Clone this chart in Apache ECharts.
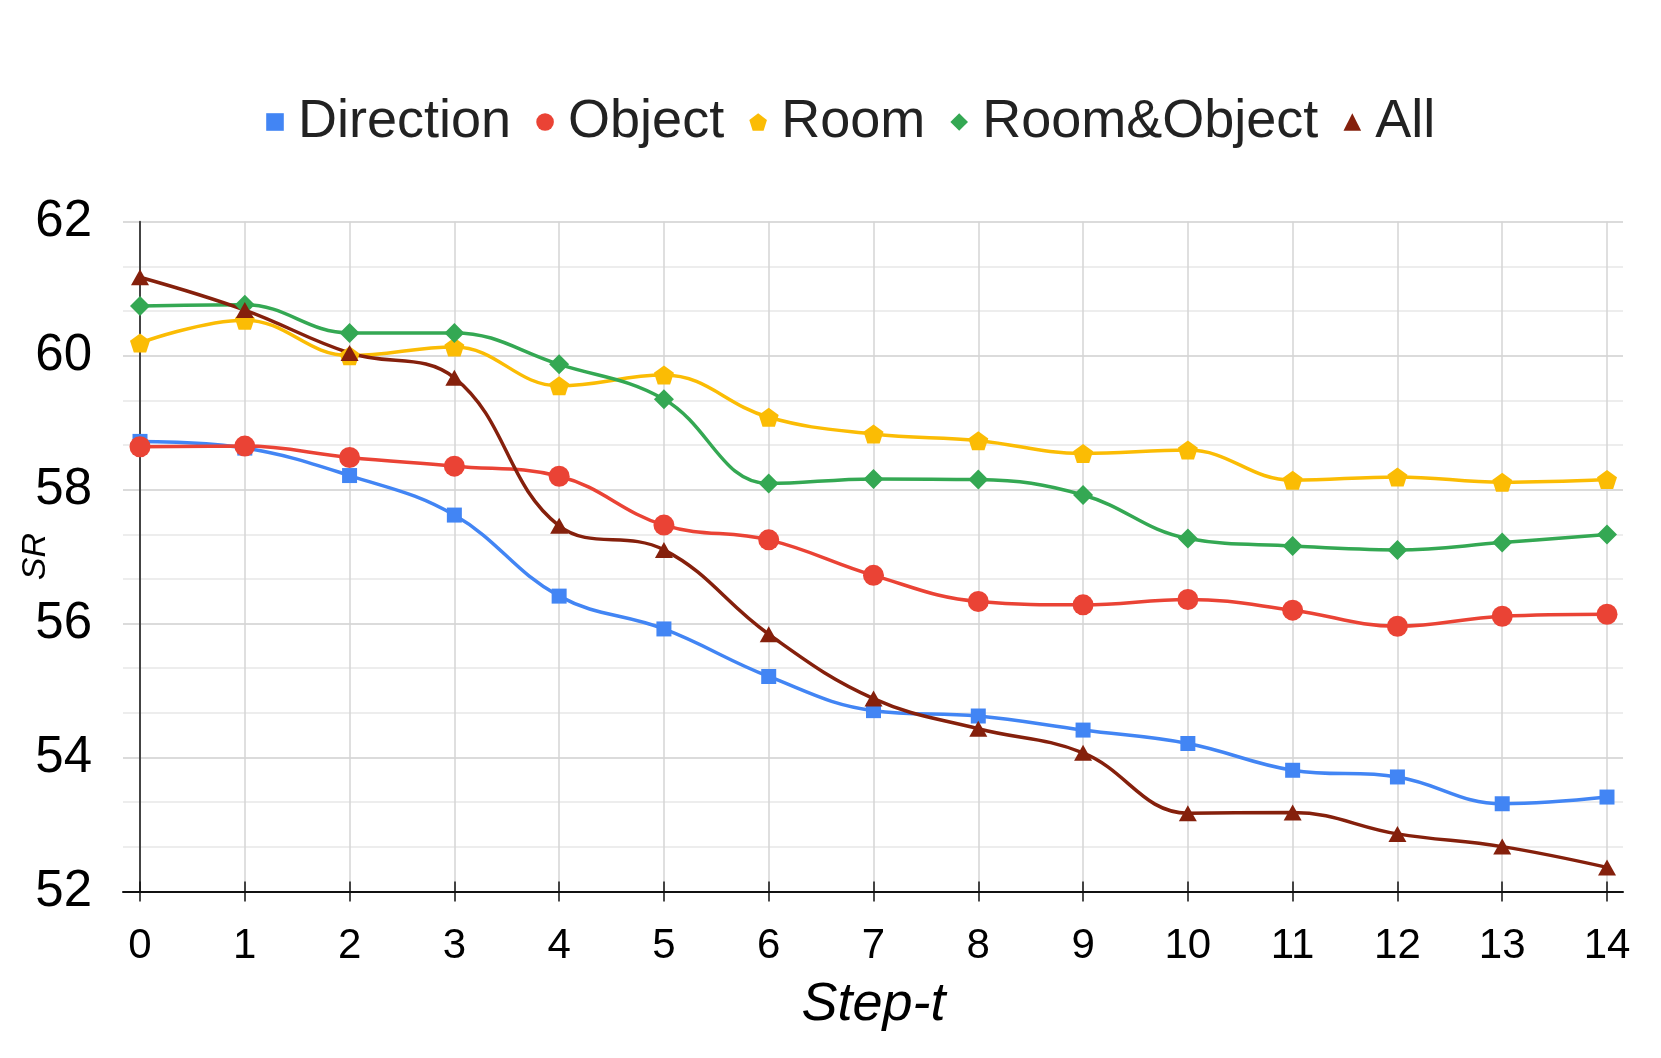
<!DOCTYPE html>
<html><head><meta charset="utf-8">
<script src="https://cdn.jsdelivr.net/npm/echarts@6/dist/echarts.min.js"></script>
<style>html,body{margin:0;padding:0;background:#fff}#c{width:1661px;height:1058px}</style>
</head><body><div id="c"></div>
<script>
const steps = ['0','1','2','3','4','5','6','7','8','9','10','11','12','13','14'];
const seriesNames = ['Direction','Object','Room','Room&Object','All'];
const direction   = [58.72, 58.62, 58.21, 57.62, 56.41, 55.92, 55.21, 54.70, 54.62, 54.41, 54.21, 53.81, 53.71, 53.31, 53.41];
const object      = [58.64, 58.65, 58.48, 58.35, 58.20, 57.47, 57.25, 56.72, 56.33, 56.28, 56.36, 56.20, 55.96, 56.11, 56.14];
const room        = [60.19, 60.53, 60.00, 60.13, 59.55, 59.71, 59.08, 58.83, 58.73, 58.54, 58.59, 58.14, 58.19, 58.11, 58.15];
const roomObject  = [60.74, 60.76, 60.34, 60.34, 59.87, 59.35, 58.09, 58.16, 58.15, 57.92, 57.27, 57.16, 57.10, 57.21, 57.33];
const all         = [61.17, 60.68, 60.04, 59.67, 57.46, 57.10, 55.84, 54.88, 54.43, 54.07, 53.17, 53.18, 52.86, 52.67, 52.36];
const yMin = 52, yMax = 62, yStep = 2;

const values = [direction, object, room, roomObject, all];
const colors = ['#4285F4', '#EA4335', '#FBBC04', '#34A853', '#85200C'];
const pentagon = 'path://M50,0 L97.55,34.55 L79.39,90.45 L20.61,90.45 L2.45,34.55 Z';
const symbols = ['rect', 'circle', pentagon, 'diamond', 'triangle'];
const sizes = [15, 21, 20, 20, [18, 16]];
const FONT = '"Liberation Sans", Arial, Helvetica, sans-serif';

const chart = echarts.init(document.getElementById('c'), null, {renderer: 'canvas'});
const option = {
  animation: false,
  backgroundColor: '#fff',
  textStyle: {fontFamily: FONT},
  legend: {
    left: 257, top: 95, padding: 0,
    itemWidth: 36, itemHeight: 22, itemGap: 16,
    textStyle: {fontSize: 54, color: '#222', fontFamily: FONT},
    lineStyle: {opacity: 0, width: 0},
    data: seriesNames
  },
  grid: [
    {left: 140, right: 54, top: 221.7, bottom: 166.5},
    {left: 123, right: 38, top: 221.7, bottom: 166.5}
  ],
  xAxis: [
    {gridIndex: 1, type: 'value', min: 0, max: 1,
     axisLine: {show: true, lineStyle: {color: '#111', width: 2}},
     axisTick: {show: false}, axisLabel: {show: false}, splitLine: {show: false}},
    {gridIndex: 0, type: 'category', data: steps, boundaryGap: false,
     axisLine: {show: false},
     axisTick: {show: true, length: 10, lineStyle: {color: '#111', width: 1.5}},
     axisLabel: {fontSize: 42, color: '#000', margin: 34, fontFamily: FONT},
     splitLine: {show: true, lineStyle: {color: '#d4d4d4', width: 1.5}},
     name: 'Step-t', nameLocation: 'middle', nameGap: 86,
     nameTextStyle: {fontSize: 54, fontStyle: 'italic', color: '#000', fontFamily: FONT}},
    {gridIndex: 0, type: 'category', data: steps, boundaryGap: false, position: 'bottom',
     axisLine: {show: false},
     axisTick: {show: true, inside: true, length: 10, lineStyle: {color: '#111', width: 1.5}},
     axisLabel: {show: false}, splitLine: {show: false}}
  ],
  yAxis: [
    {gridIndex: 1, type: 'value', min: yMin, max: yMax, interval: yStep,
     axisLine: {show: false}, axisTick: {show: false},
     axisLabel: {fontSize: 51, color: '#000', margin: 31, fontFamily: FONT},
     splitLine: {show: true, lineStyle: {color: '#cfcfcf', width: 1.5}},
     minorTick: {show: false, splitNumber: 3},
     minorSplitLine: {show: true, lineStyle: {color: '#e8e8e8', width: 1.5}},
     name: 'SR', nameLocation: 'middle', nameGap: 70, nameRotate: 90, nameMoveOverlap: false,
     nameTextStyle: {fontSize: 34, fontStyle: 'italic', color: '#000', fontFamily: FONT}},
    {gridIndex: 0, type: 'value', min: yMin, max: yMax,
     axisLine: {show: true, lineStyle: {color: '#444', width: 2}},
     axisTick: {show: false}, axisLabel: {show: false}, splitLine: {show: false}}
  ],
  series: seriesNames.map((n, i) => ({
    name: n, type: 'line', xAxisIndex: 1, yAxisIndex: 1,
    data: values[i], smooth: 0.4,
    symbol: symbols[i], symbolSize: sizes[i], symbolKeepAspect: true, showSymbol: true,
    lineStyle: {width: 3.5, color: colors[i]},
    itemStyle: {color: colors[i]},
    emphasis: {disabled: true}
  }))
};
chart.setOption(option);
</script>
</body></html>
